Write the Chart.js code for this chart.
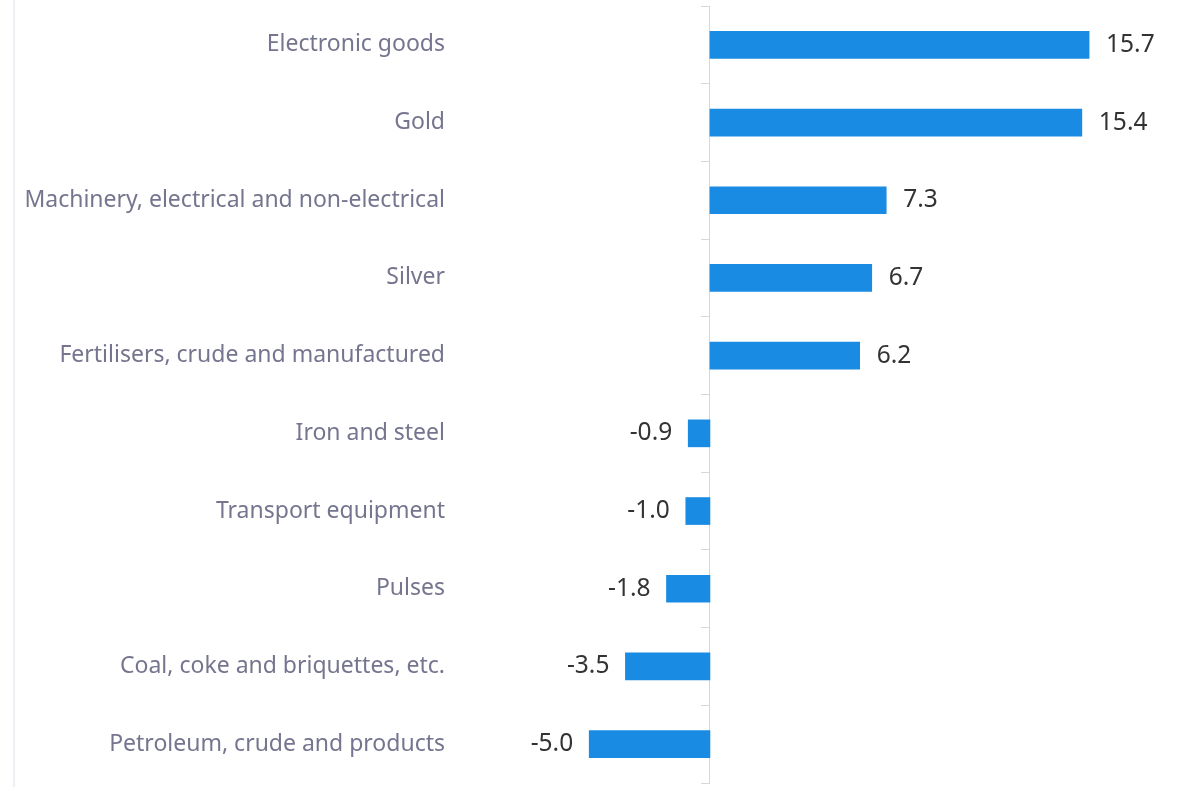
<!DOCTYPE html>
<html>
<head>
<meta charset="utf-8">
<script src="https://cdn.jsdelivr.net/npm/chart.js@4"></script>
<style>
  html, body { margin: 0; padding: 0; background: #fff; }
  #wrap { position: relative; width: 1184px; height: 787px; }
  #wrap::before { content: ''; position: absolute; left: 13px; top: 0; bottom: 0; width: 2px; background: #eeeef4; }
  canvas { position: relative; }
</style>
</head>
<body>
<div id="wrap"><canvas id="chart" width="1184" height="787"></canvas></div>
<script>
const categories = [
    'Electronic goods',
    'Gold',
    'Machinery, electrical and non-electrical',
    'Silver',
    'Fertilisers, crude and manufactured',
    'Iron and steel',
    'Transport equipment',
    'Pulses',
    'Coal, coke and briquettes, etc.',
    'Petroleum, crude and products'
];
const growth = [15.7, 15.4, 7.3, 6.7, 6.2, -0.9, -1.0, -1.8, -3.5, -5.0];

const barColor = '#1a8be3';
const axisColor = '#d6d6e2';

// value labels next to each bar end
const valueLabels = {
    id: 'valueLabels',
    afterDatasetsDraw(chart) {
        const ctx = chart.ctx;
        const meta = chart.getDatasetMeta(0);
        ctx.save();
        ctx.font = '24.5px "Noto Sans"';
        ctx.fillStyle = '#333333';
        ctx.textBaseline = 'middle';
        meta.data.forEach((bar, i) => {
            const v = growth[i];
            if (v >= 0) {
                ctx.textAlign = 'left';
                ctx.fillText(v.toFixed(1), bar.x + 17, bar.y);
            } else {
                ctx.textAlign = 'right';
                ctx.fillText(v.toFixed(1), bar.x - 16, bar.y);
            }
        });
        ctx.restore();
    }
};

function noPad(scale) {
    scale.paddingTop = 0;
    scale.paddingBottom = 0;
}

new Chart(document.getElementById('chart'), {
    type: 'bar',
    data: {
        labels: categories,
        datasets: [{
            data: growth,
            backgroundColor: barColor,
            borderWidth: 0,
            barThickness: 27
        }]
    },
    options: {
        indexAxis: 'y',
        responsive: false,
        animation: false,
        layout: { padding: { top: 6, bottom: 4, left: 0, right: 0 } },
        plugins: {
            legend: { display: false },
            tooltip: { enabled: false }
        },
        scales: {
            x: {
                type: 'linear',
                display: false,
                min: -10.35,
                max: 19.63
            },
            y: {
                type: 'category',
                position: 'left',
                grid: { display: false, drawTicks: false },
                border: { display: false },
                ticks: {
                    color: '#75758f',
                    padding: 15,
                    font: { family: '"Noto Sans"', size: 23 }
                },
                afterFit(scale) {
                    scale.width = 460;
                    noPad(scale);
                }
            },
            y2: {
                type: 'category',
                position: { x: 0 },
                offset: true,
                grid: {
                    offset: true,
                    drawOnChartArea: false,
                    color: axisColor,
                    tickLength: 8
                },
                border: { color: axisColor, width: 1 },
                ticks: { display: false },
                afterFit: noPad
            }
        }
    },
    plugins: [valueLabels]
});
</script>
</body>
</html>
